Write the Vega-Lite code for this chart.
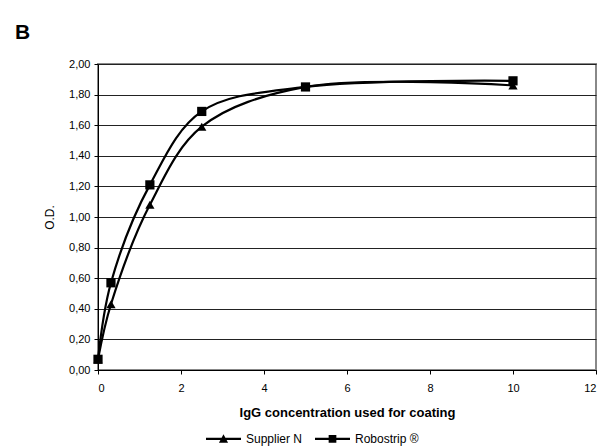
{
  "$schema": "https://vega.github.io/schema/vega-lite/v6.json",
  "autosize": "none",
  "width": 498,
  "height": 306,
  "padding": {"left": 98, "top": 64, "right": 12, "bottom": 76},
  "background": "white",
  "config": {
    "font": "Liberation Sans",
    "view": {"stroke": "#888888", "strokeWidth": 2},
    "axis": {"labelFont": "Liberation Sans", "titleFont": "Liberation Sans", "labelColor": "black", "titleColor": "black", "domainColor": "black", "tickColor": "black", "labelFontSize": 11}
  },
  "title": {"text": "B", "anchor": "start", "frame": "group", "dx": -83, "offset": 15, "fontSize": 21, "fontWeight": "bold", "font": "Liberation Sans", "color": "black"},
  "data": {"values": [
    {"conc": 0, "od": 0.07, "series": "Supplier N"},
    {"conc": 0.3125, "od": 0.43, "series": "Supplier N"},
    {"conc": 1.25, "od": 1.08, "series": "Supplier N"},
    {"conc": 2.5, "od": 1.59, "series": "Supplier N"},
    {"conc": 5, "od": 1.85, "series": "Supplier N"},
    {"conc": 10, "od": 1.86, "series": "Supplier N"},
    {"conc": 0, "od": 0.07, "series": "Robostrip ®"},
    {"conc": 0.3125, "od": 0.57, "series": "Robostrip ®"},
    {"conc": 1.25, "od": 1.21, "series": "Robostrip ®"},
    {"conc": 2.5, "od": 1.69, "series": "Robostrip ®"},
    {"conc": 5, "od": 1.85, "series": "Robostrip ®"},
    {"conc": 10, "od": 1.89, "series": "Robostrip ®"}
  ]},
  "encoding": {
    "x": {"field": "conc", "type": "quantitative", "scale": {"domain": [0, 12], "nice": false},
      "axis": {"values": [0, 2, 4, 6, 8, 10, 12], "grid": false, "title": "IgG concentration used for coating", "titleFontSize": 13, "titleFontWeight": "bold", "titlePadding": 13, "labelPadding": 8, "tickSize": 4, "domainWidth": 1}},
    "y": {"field": "od", "type": "quantitative", "scale": {"domain": [0, 2], "nice": false},
      "axis": {"values": [0, 0.2, 0.4, 0.6, 0.8, 1.0, 1.2, 1.4, 1.6, 1.8, 2.0], "labelExpr": "replace(format(datum.value, '.2f'), '.', ',')", "gridColor": "#222222", "gridWidth": 1, "gridOpacity": 1, "title": "O.D.", "titleFontSize": 12, "titleFontWeight": "normal", "titlePadding": 12, "labelPadding": 4, "tickSize": 4}}
  },
  "layer": [
    {
      "mark": {"type": "line", "interpolate": "catmull-rom", "color": "black", "strokeWidth": 2.2},
      "encoding": {"detail": {"field": "series"}}
    },
    {
      "mark": {"type": "point", "filled": true, "color": "black", "opacity": 1},
      "encoding": {
        "shape": {"field": "series", "type": "nominal", "scale": {"domain": ["Supplier N", "Robostrip ®"], "range": ["triangle-up", "square"]}, "legend": null},
        "size": {"value": 85}
      }
    },
    {
      "mark": {"type": "point", "filled": true, "color": "black", "opacity": 0},
      "encoding": {
        "shape": {"field": "series", "type": "nominal", "scale": {"domain": ["Supplier N", "Robostrip ®"], "range": ["M-1,-0.06H1V0.06H-1ZM-0.26,0.22L0,-0.26L0.26,0.22Z", "M-1,-0.06H1V0.06H-1ZM-0.22,-0.22H0.22V0.22H-0.22Z"]},
          "legend": {"title": null, "orient": "none", "direction": "horizontal", "legendX": 107, "legendY": 356, "symbolSize": 1225, "labelFontSize": 12, "labelFont": "Liberation Sans", "labelColor": "black", "labelOffset": 4, "columnPadding": 9, "padding": 0,
            "encode": {"symbols": {"update": {"fill": {"value": "black"}, "stroke": {"value": "transparent"}, "opacity": {"value": 1}, "fillOpacity": {"value": 1}}}}}},
        "size": {"value": 1225}
      }
    }
  ],
  "resolve": {"scale": {"shape": "independent"}}
}
